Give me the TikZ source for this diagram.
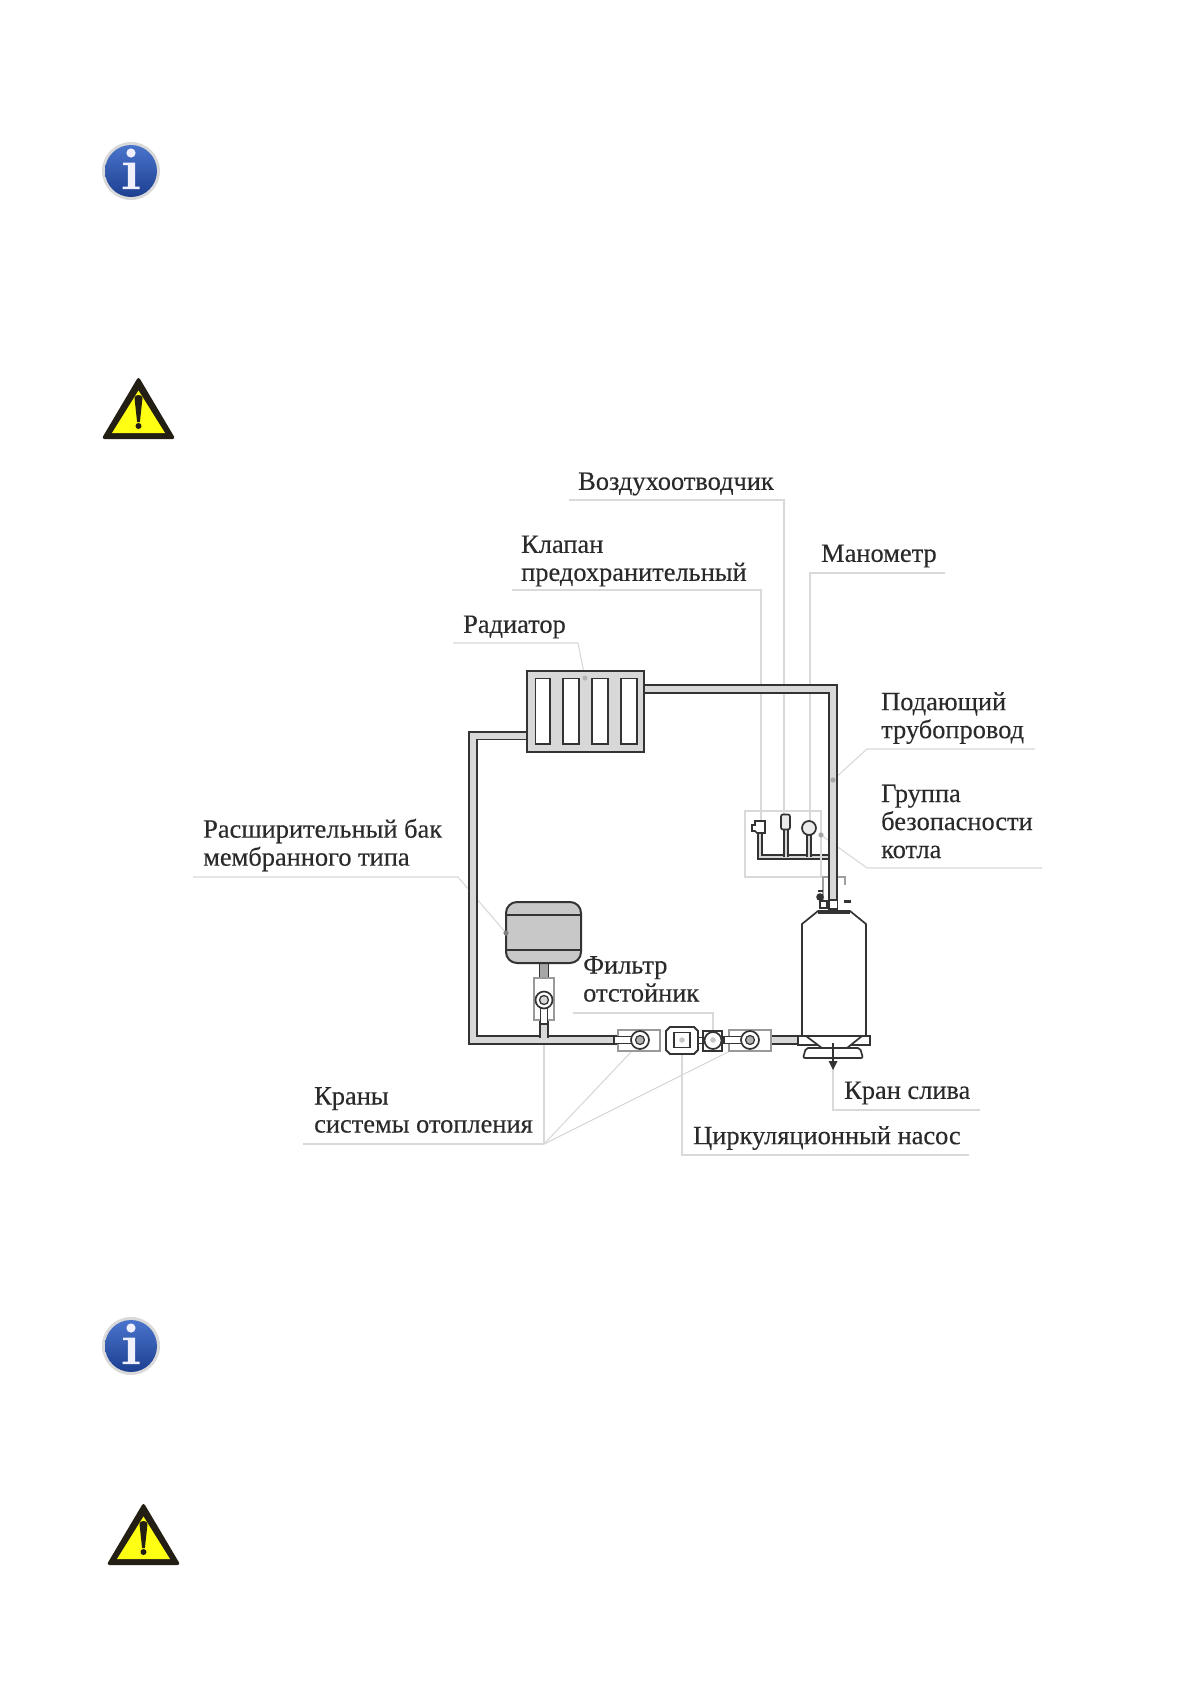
\documentclass[tikz,border=0pt]{standalone}
\usepackage{fontspec}
\setmainfont{Liberation Serif}[RawFeature={embolden=0.25}]
\usetikzlibrary{calc}
\definecolor{dark}{HTML}{333333}
\definecolor{pipefill}{HTML}{D8D8D8}
\definecolor{leader}{HTML}{D9D9D9}
\definecolor{tankfill}{HTML}{C8C8C8}
\definecolor{labelink}{HTML}{2A2A2A}
\definecolor{warnblack}{HTML}{231F14}
\definecolor{warnyellow}{HTML}{FFFF14}
\definecolor{infotop}{HTML}{4A74CC}
\definecolor{infobot}{HTML}{1C3F90}
\tikzset{
  lbl/.style={font=\fontsize{26.4}{28}\selectfont,text=labelink,anchor=west,align=left,inner sep=0pt},
  leaderline/.style={draw=leader,line width=1.1pt},
  pipe/.style={draw=dark,line width=1.9pt,double=pipefill,double distance=6pt},
  thinpipe/.style={draw=dark,line width=1.7pt,double=pipefill,double distance=2.2pt},
  part/.style={draw=dark,line width=1.7pt,fill=white},
  grayframe/.style={draw=gray!75,line width=1.1pt,fill=white},
  infoicon/.pic={
    \fill[gray!30] (0,0) circle (29);
    \shade[top color=infotop,bottom color=infobot] (0,0) circle (26);
    \fill[white!94!blue] (0,-18) circle (4.6);
    \fill[white!94!blue] (-8,-8.5) -- (4.2,-8.5) -- (4.2,15.5) -- (8.5,15.5) -- (8.5,18) -- (-8.5,18) -- (-8.5,15.5) -- (-3.2,15.5) -- (-3.2,-6) -- (-8,-6) -- cycle;
  },
  warnicon/.pic={
    \fill[warnblack,rounded corners=3pt] (0,-2.5) -- (37,60) -- (-37,60) -- cycle;
    \fill[warnyellow] (0,11.5) -- (26.5,54) -- (-26.5,54) -- cycle;
    \fill[warnblack] (-4,19) .. controls (-4,15) and (4,15) .. (4,19) -- (1.4,43) -- (-1.4,43) -- cycle;
    \fill[warnblack] (0,47) circle (3);
  }
}
\begin{document}
\begin{tikzpicture}[x=1pt,y=-1pt]
\useasboundingbox (0,0) rectangle (1191,1684);
\fill[white] (0,0) rectangle (1191,1684);

\pic at (131,171) {infoicon};
\pic at (138.5,379) {warnicon};
\pic at (131,1346) {infoicon};
\pic at (143.5,1505) {warnicon};

% group frame
\coordinate (groupTL) at (745,811);
\coordinate (groupBR) at (821,877);

% labels
\node[lbl] (vozd) at (578,484) {Воздухоотводчик};
\node[lbl] (klapan) at (521,561) {Клапан\\предохранительный};
\node[lbl] (manom) at (821,556) {Манометр};
\node[lbl] (radlab) at (463,627) {Радиатор};
\node[lbl] (podlab) at (881,718) {Подающий\\трубопровод};
\node[lbl] (grplab) at (881,821.5) {Группа\\безопасности\\котла};
\node[lbl] (rasshlab) at (203,845) {Расширительный бак\\мембранного типа};
\node[lbl] (filtlab) at (583,979) {Фильтр\\отстойник};
\node[lbl] (kranlab) at (844,1093) {Кран слива};
\node[lbl] (cirlab) at (693,1138) {Циркуляционный насос};
\node[lbl] (kranylab) at (314,1110) {Краны\\системы отопления};

% leader ends
\coordinate (airdev) at (784,815);
\coordinate (safedev) at (761,821);
\coordinate (gaugedev) at (810,821);
\coordinate (raddot) at (585,678);
\coordinate (feeddot) at (833,780);
\coordinate (grpdot) at (821,835);
\coordinate (tankdot) at (506,933);
\coordinate (filtdot) at (713,1040);
\coordinate (draindot) at (833,1066);
\coordinate (pumpdot) at (682,1040);
\coordinate (valveA) at (544,1030);
\coordinate (valveB) at (632,1051);
\coordinate (valveC) at (730,1051);
\coordinate (kranhub) at (544,1144);

% leader lines
\draw[leaderline] (569,500) -| (airdev);
\draw[leaderline] (512,590) -| (safedev);
\draw[leaderline] (945,573) -| (gaugedev);
\draw[leaderline] (453,643) -- (578,643) -- (raddot);
\draw[leaderline] (1035,749) -- (867,749) -- (feeddot);
\draw[leaderline] (1042,868) -- (867,868) -- (grpdot);
\draw[leaderline] (193,877) -- (458,877) -- (tankdot);
\draw[leaderline] (573,1013) -| (filtdot);
\draw[leaderline] (980,1110) -| (draindot);
\draw[leaderline] (969,1155) -| (pumpdot);
\draw[leaderline] (303,1144) -- (kranhub);
\draw[leaderline] (kranhub) -- (valveA);
\draw[leaderline] (kranhub) -- (valveB);
\draw[leaderline] (kranhub) -- (valveC);

% pipes
\coordinate (radL) at (530,735.5);
\coordinate (radR) at (641,689);
\coordinate (boilerTop) at (833,900);
\coordinate (pipeEnd) at (625,1040);
\draw[pipe] (radL) -- (473,735.5) -- (473,1040) -- (pipeEnd);
\draw[pipe] (radR) -- (833,689) -- (boilerTop);
\draw[pipe] (544,1038) -- (544,1018);
\draw[thinpipe] (760,832) -- (760,857) -- (831,857);
\draw[thinpipe] (786,828) -- (786,857);
\draw[thinpipe] (809,834) -- (809,857);

% radiator
\node[draw=dark,line width=2pt,fill=pipefill,minimum width=117pt,minimum height=81pt,inner sep=0pt] (radiator) at (585.5,711.5) {};
\foreach \a/\b in {535.5/550,563/579,592/608,621/637}
  \draw[part] (\a,678.5) rectangle (\b,744);
\fill[gray!60] (raddot) circle (2.5);

% group frame on top of the pipes lines
\draw[leaderline] (groupTL) rectangle (groupBR);
\draw[pipe] (833,850) -- (boilerTop);
\fill[gray!70] (feeddot) circle (2.6);
\fill[gray!70] (grpdot) circle (2.6);

% safety group devices
\draw[part] (752,825) -- (755,825) -- (755,821) -- (765,821) -- (765,833) -- (757,833) -- (755,831) -- (752,831) -- cycle;
\node[part,rounded corners=2pt,minimum width=9pt,minimum height=15pt,inner sep=0pt,fill=pipefill!50] (airvent) at (785.5,822) {};
\node[part,circle,minimum size=14pt,inner sep=0pt,fill=pipefill!50] (gauge) at (809,828) {};

% top of boiler fittings
\draw[grayframe,fill=none] (823,901) -- (823,877) -- (845,877) -- (845,885);
\draw[pipe] (833,875) -- (833,900);
\draw[part,line width=1.3pt] (829,900) rectangle (837.5,909);
\fill[dark] (820,897) circle (3.8);
\draw[part,line width=1.2pt] (820,901) rectangle (827,908);
\draw[dark,line width=1.6pt] (818,891) -- (823,891);
\draw[dark,line width=2.2pt] (844,901.5) -- (851,901.5);

% boiler
\node (boilerAnchor) at (834,975) {};
\draw[part] (818,911) -- (850,911) -- (866,924) -- (866,1036) -- (802,1036) -- (802,924) -- cycle;
\draw[part,line width=1.2pt] (818,913) -- (850,913);
\draw[part] (798,1036) -- (870,1036) -- (870,1045) -- (798,1045) -- cycle;
\draw[part,rounded corners=2pt] (806,1048) -- (860,1048) -- (863,1058) -- (803,1058) -- cycle;
\draw[part] (806,1036) -- (822,1048) -- (847,1048) -- (862,1036) -- cycle;
\draw[dark,line width=2.4pt] (833,1043) -- (833,1066);
\fill[dark] (828.5,1061) -- (837.5,1061) -- (833,1070) -- cycle;

% bottom line connection
\draw[pipe] (770,1040) -- (797,1040);

% expansion tank
\draw[dark,line width=1pt,fill=gray!70] (539.5,963) rectangle (548.5,980);
\node[draw=dark,line width=2pt,fill=tankfill,rounded corners=11pt,minimum width=75pt,minimum height=61pt,inner sep=0pt] (tank) at (543.5,932.5) {};
\draw[dark,line width=1.5pt] (506.5,915) -- (580.5,915) (506.5,950) -- (580.5,950);
\fill[gray] (tankdot) circle (2.6);

% filter valve
\node[draw=gray!80,line width=1.2pt,fill=white,minimum width=20pt,minimum height=42pt,inner sep=0pt] (tapbox) at (544,999) {};
\draw[part,line width=1.5pt] (540.5,1003) -- (540.5,1024) -- (547.5,1024) -- (547.5,1003);
\node[part,circle,minimum size=17pt,inner sep=0pt] (tapring) at (544,1000) {};
\node[draw=dark,line width=1.3pt,fill=pipefill,circle,minimum size=9pt,inner sep=0pt] (tapcore) at (544,1000) {};

% left valve
\node[draw=gray!80,line width=1.2pt,fill=white,minimum width=42pt,minimum height=21pt,inner sep=0pt] (valve1) at (639,1040.5) {};
\draw[part,line width=1.5pt] (632,1036.5) -- (614,1036.5) -- (614,1043.5) -- (632,1043.5);
\node[part,circle,minimum size=18pt,inner sep=0pt] (ring1) at (640,1040) {};
\node[draw=dark,line width=1.2pt,fill=gray!60,circle,minimum size=9pt,inner sep=0pt] (core1) at (640,1040) {};

% filter-sump between valve and pump
\draw[dark,line width=1.8pt,fill=white] (670,1027) -- (694,1027) -- (698,1031) -- (698,1050) -- (694,1054) -- (670,1054) -- (666,1050) -- (666,1031) -- cycle;
\node[draw=dark,line width=1.9pt,fill=white,minimum width=16pt,minimum height=15pt,inner sep=0pt] (pumpcore) at (682,1040) {};
\fill[gray!45] (pumpdot) circle (2.8);

% pump
\draw[dark,line width=1pt] (698,1037) -- (703,1037) (698,1043) -- (703,1043);
\node[draw=dark,line width=1.8pt,fill=white,minimum width=19pt,minimum height=20pt,inner sep=0pt] (pumpbox) at (712.5,1041) {};
\node[part,circle,minimum size=17pt,inner sep=0pt] (pumpring) at (713,1040.5) {};
\fill[gray!45] (filtdot) circle (2.8);

% right valve
\node[draw=gray!80,line width=1.2pt,fill=white,minimum width=42pt,minimum height=21pt,inner sep=0pt] (valve2) at (750,1040.5) {};
\draw[part,line width=1.5pt] (742,1036.5) -- (724,1036.5) -- (724,1043.5) -- (742,1043.5);
\node[part,circle,minimum size=18pt,inner sep=0pt] (ring2) at (750,1040) {};
\node[draw=dark,line width=1.2pt,fill=gray!60,circle,minimum size=9pt,inner sep=0pt] (core2) at (750,1040) {};
\end{tikzpicture}
\end{document}
